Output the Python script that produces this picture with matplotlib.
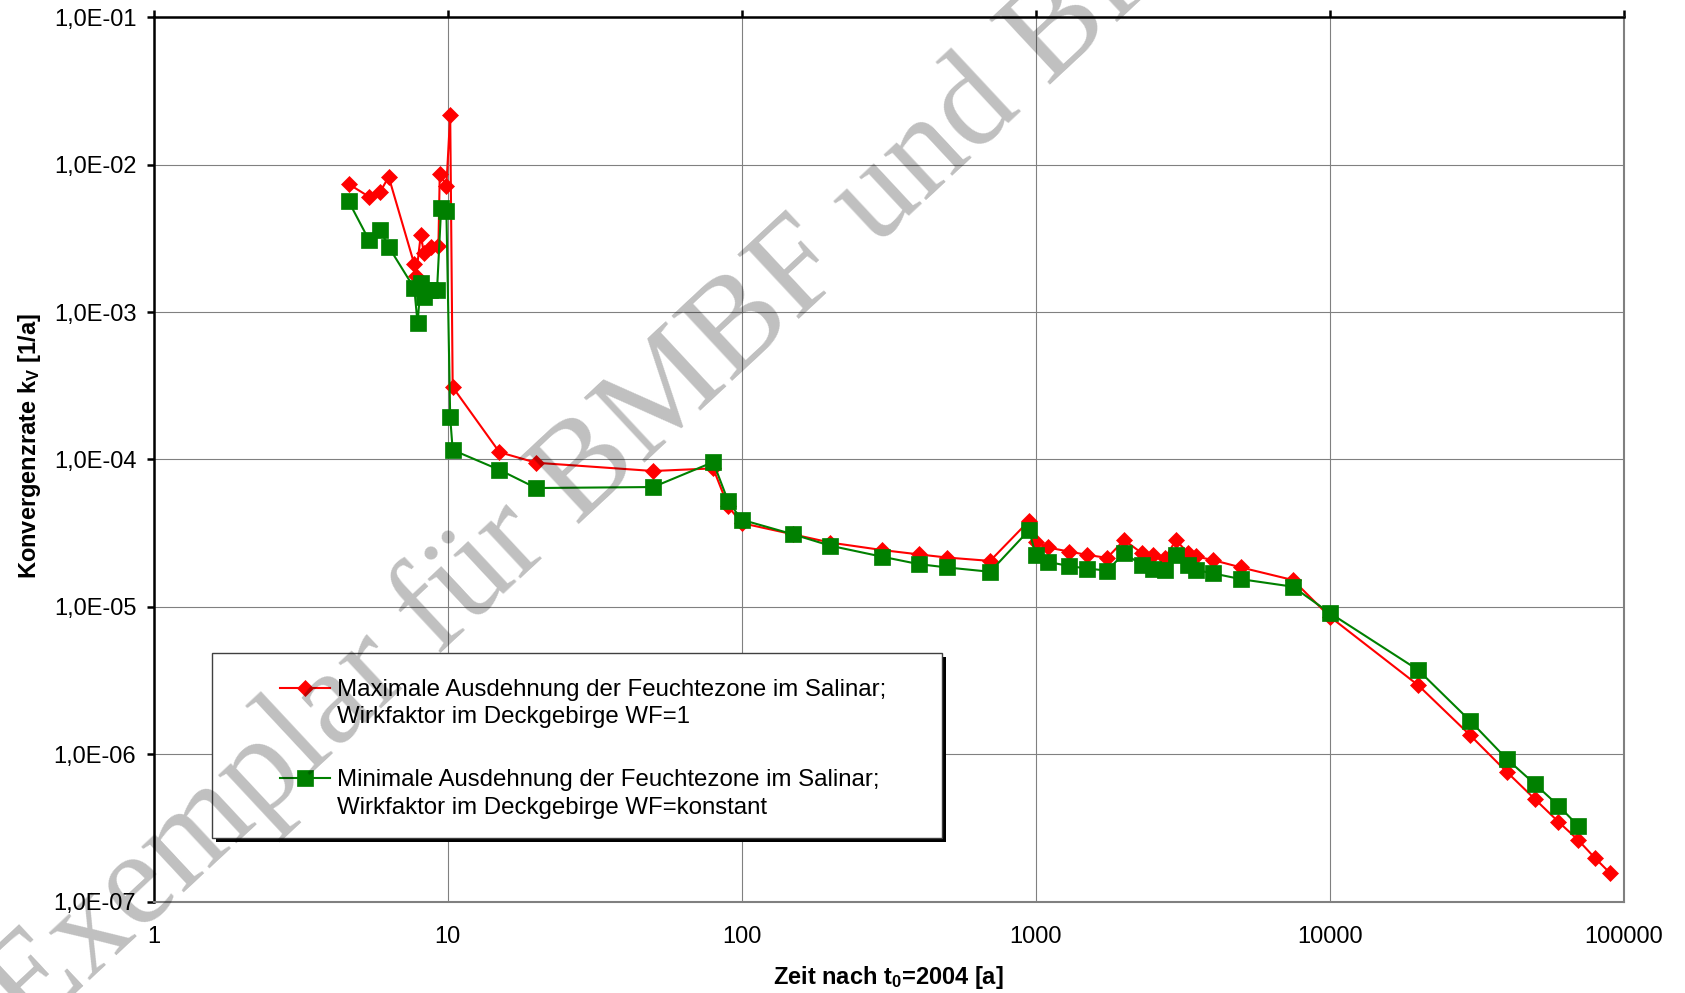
import numpy as np
import matplotlib
matplotlib.use('Agg')
import matplotlib.pyplot as plt
import matplotlib.ticker as mticker
import matplotlib.transforms as mtransforms
from matplotlib.patches import Rectangle
from matplotlib.legend_handler import HandlerLine2D

plt.rcParams['font.family'] = ['Liberation Sans', 'DejaVu Sans']
plt.rcParams['mathtext.fontset'] = 'custom'
plt.rcParams['mathtext.rm'] = 'Liberation Sans'
plt.rcParams['mathtext.bf'] = 'Liberation Sans:bold'
plt.rcParams['mathtext.it'] = 'Liberation Sans:italic'

""" Data read off the chart: time after 2004 [a] and convergence rate [1/a] """
t_max = [4.6, 5.4, 5.9, 6.3, 7.7, 7.8, 8.1, 8.3, 8.8, 9.3, 9.4, 9.9, 10.2, 10.4,
         15, 20, 50, 80, 90, 100, 150, 200, 300, 400, 500, 700,
         950, 1000, 1100, 1300, 1500, 1750, 2000, 2300, 2500, 2750, 3000, 3300, 3500, 4000, 5000, 7500,
         10000, 20000, 30000, 40000, 50000, 60000, 70000, 80000, 90000]
k_max = [7.4e-3, 6.06e-3, 6.55e-3, 8.28e-3, 2.11e-3, 1.75e-3, 3.33e-3, 2.52e-3, 2.77e-3, 2.8e-3, 8.7e-3, 7.2e-3, 2.17e-2, 3.1e-4,
         1.12e-4, 9.5e-5, 8.35e-5, 8.7e-5, 4.8e-5, 3.7e-5, 3.1e-5, 2.73e-5, 2.43e-5, 2.27e-5, 2.16e-5, 2.05e-5,
         3.84e-5, 2.77e-5, 2.53e-5, 2.37e-5, 2.25e-5, 2.15e-5, 2.84e-5, 2.31e-5, 2.25e-5, 2.13e-5, 2.84e-5, 2.31e-5, 2.2e-5, 2.08e-5, 1.85e-5, 1.52e-5,
         8.6e-6, 2.94e-6, 1.35e-6, 7.6e-7, 4.94e-7, 3.48e-7, 2.62e-7, 1.97e-7, 1.56e-7]

t_min = [4.6, 5.4, 5.9, 6.3, 7.7, 7.9, 8.1, 8.3, 8.7, 9.2, 9.5, 9.9, 10.2, 10.4,
         15, 20, 50, 80, 90, 100, 150, 200, 300, 400, 500, 700,
         950, 1000, 1100, 1300, 1500, 1750, 2000, 2300, 2500, 2750, 3000, 3300, 3500, 4000, 5000, 7500,
         10000, 20000, 30000, 40000, 50000, 60000, 70000]
k_min = [5.66e-3, 3.08e-3, 3.6e-3, 2.77e-3, 1.45e-3, 8.4e-4, 1.57e-3, 1.27e-3, 1.41e-3, 1.41e-3, 5.05e-3, 4.87e-3, 1.93e-4, 1.16e-4,
         8.5e-5, 6.4e-5, 6.5e-5, 9.6e-5, 5.2e-5, 3.9e-5, 3.1e-5, 2.6e-5, 2.19e-5, 1.95e-5, 1.85e-5, 1.73e-5,
         3.32e-5, 2.25e-5, 2.02e-5, 1.89e-5, 1.82e-5, 1.76e-5, 2.31e-5, 1.92e-5, 1.82e-5, 1.78e-5, 2.25e-5, 1.92e-5, 1.78e-5, 1.69e-5, 1.54e-5, 1.37e-5,
         9.1e-6, 3.73e-6, 1.69e-6, 9.3e-7, 6.25e-7, 4.48e-7, 3.27e-7]

label_max = "Maximale Ausdehnung der Feuchtezone im Salinar;\nWirkfaktor im Deckgebirge WF=1"
label_min = "Minimale Ausdehnung der Feuchtezone im Salinar;\nWirkfaktor im Deckgebirge WF=konstant"


"""Legend handle sitting on the first text line (like Excel does)"""
class FirstLineHandler(HandlerLine2D):
    def create_artists(self, legend, orig_handle, xdescent, ydescent, width, height, fontsize, trans):
        artists = super().create_artists(legend, orig_handle, xdescent, ydescent, width, height, fontsize, trans)
        for a in artists:
            a.set_ydata(np.asarray(a.get_ydata(), dtype=float) + 0.65 * fontsize)
        return artists


fig = plt.figure(figsize=(16.85, 9.93), dpi=100)
ax = fig.add_axes([0.0912, 0.0920, 0.8724, 0.8906])

line_max, = ax.plot(t_max, k_max, color='#FF0000', lw=1.5, marker='D', ms=8.2,
                    mec='#FF0000', mew=0.5, label=label_max)
line_min, = ax.plot(t_min, k_min, color='#008000', lw=1.5, marker='s', ms=12,
                    mec='#008000', mew=0.5, label=label_min)

ax.set_xscale('log')
ax.set_yscale('log')
ax.set_xlim(1, 1e5)
ax.set_ylim(1e-7, 1e-1)

ax.xaxis.set_major_locator(mticker.LogLocator(base=10, numticks=20))
ax.yaxis.set_major_locator(mticker.LogLocator(base=10, numticks=20))
ax.xaxis.set_minor_locator(mticker.NullLocator())
ax.yaxis.set_minor_locator(mticker.NullLocator())
ax.xaxis.set_major_formatter(mticker.FuncFormatter(lambda v, p: "%d" % round(v)))
ax.yaxis.set_major_formatter(mticker.FuncFormatter(lambda v, p: ("%.1E" % v).replace('.', ',')))

ax.grid(True, which='major', color='#808080', lw=0.8)

for side in ['top', 'left']:
    ax.spines[side].set_color('black')
    ax.spines[side].set_linewidth(1.8)
for side in ['bottom', 'right']:
    ax.spines[side].set_color('#808080')
    ax.spines[side].set_linewidth(1.5)

ax.tick_params(axis='x', which='major', bottom=False, top=True, labelbottom=True, labeltop=False,
               direction='out', length=5, width=1.8, pad=12.5, labelsize=17)
ax.tick_params(axis='y', which='major', left=True, right=False,
               direction='out', length=5, width=1.8, pad=7.5, labelsize=17)

ax.set_xlabel(r"Zeit nach $\mathbf{t_0}$=2004 [a]", fontsize=17, fontweight='bold')
ax.set_ylabel(r"Konvergenzrate $\mathbf{k_V}$ [1/a]", fontsize=17, fontweight='bold')
ax.xaxis.set_label_coords(0.5, -0.070)
ax.yaxis.set_label_coords(-0.075, 0.515)

"""Legend box with hard black shadow, contents drawn by the legend itself"""
shadow_tr = mtransforms.offset_copy(ax.transAxes, fig=fig, x=4, y=-4, units='dots')
ax.add_patch(Rectangle((0.0395, 0.0723), 0.4966, 0.209, transform=shadow_tr,
                       fc='black', ec='none', zorder=3.9, clip_on=False))
ax.add_patch(Rectangle((0.0395, 0.0723), 0.4966, 0.209, transform=ax.transAxes,
                       fc='white', ec='#404040', lw=1, zorder=4, clip_on=False))

leg = ax.legend(handler_map={line_max: FirstLineHandler(), line_min: FirstLineHandler()},
                loc='upper left', bbox_to_anchor=(0.0857, 0.252), frameon=False, fontsize=17.3,
                handlelength=2.1, handletextpad=0.3, labelspacing=1.7, borderpad=0,
                borderaxespad=0, numpoints=1)
for t in leg.get_texts():
    t.set_linespacing(1.32)
leg.set_zorder(5)

"""Watermark across the whole page"""
fig.text(0.0174, -0.0436, "Exemplar für BMBF und BfS", rotation=43, rotation_mode='anchor',
         ha='left', va='baseline', fontsize=97, family='Liberation Serif',
         color='black', alpha=0.25, zorder=10)

fig.savefig('out.png', dpi=100)
